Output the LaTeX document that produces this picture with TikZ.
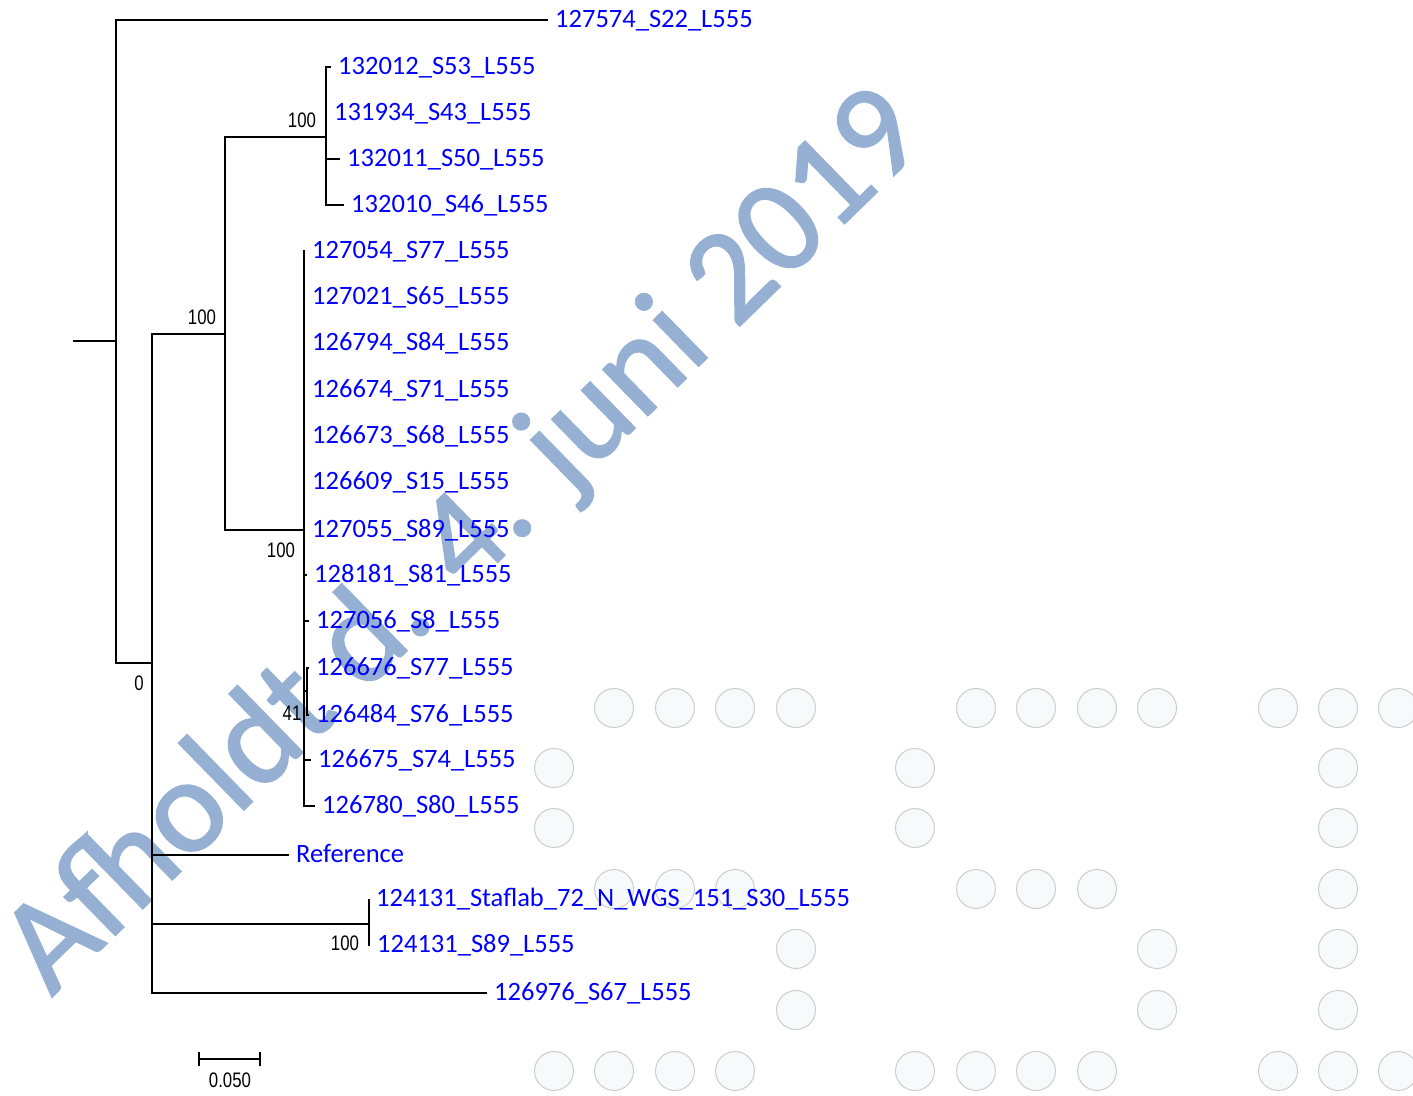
\documentclass[tikz,border=0pt]{standalone}
\usepackage{fontspec}
\setmainfont{Carlito}
\newfontfamily\lblfont{Carlito}
\newfontfamily\wmfont[FakeBold=1.5]{Carlito}
\newfontfamily\bsfont[FakeStretch=0.8]{Liberation Sans}
\definecolor{tipblue}{RGB}{0,0,255}
\definecolor{wmcol}{RGB}{149,176,210}
\definecolor{dotfill}{RGB}{247,250,251}
\definecolor{dotline}{RGB}{205,205,205}
\begin{document}
\begin{tikzpicture}[x=1pt,y=-1pt,
  br/.style={line width=1.8pt, line join=miter},
  tip/.style={anchor=west, inner xsep=7pt, inner ysep=0pt, text height=1.4em, text depth=0pt,
    font=\lblfont\fontsize{26.5}{30}\selectfont, text=tipblue},
  bs/.style={font=\bsfont\fontsize{21}{24}\selectfont, inner sep=0pt},
  dotc/.style={fill=dotfill, draw=dotline, line width=1pt}]
\useasboundingbox (0,0) rectangle (1413,1095);
% background dot pattern
\foreach \x/\y in {614/708,675/708,735/708,796/708,976/708,1036/708,1097/708,1157/708,1278/708,1338/708,1398/708,
  554/768,915/768,1338/768,554/828,915/828,1338/828,
  614/889,675/889,735/889,976/889,1036/889,1097/889,1338/889,
  796/949,1157/949,1338/949,796/1010,1157/1010,1338/1010,
  554/1071,614/1071,675/1071,735/1071,915/1071,976/1071,1036/1071,1097/1071,1278/1071,1338/1071,1398/1071}
  \filldraw[dotc] (\x,\y) circle (19.5);
% watermark
\node[font=\wmfont\fontsize{134}{150}\selectfont, text=wmcol, rotate=44.3, inner sep=0pt] (wm) at (466,543) {Afholdt d. 4. juni 2019};
% internal nodes
\coordinate (root) at (73,341);
\coordinate (n0) at (116,341);
\coordinate (n1) at (152,663);
\coordinate (n2) at (225,334);
\coordinate (n3) at (326,137);
\coordinate (n4) at (304,530);
\coordinate (n5) at (307,691);
\coordinate (n6) at (369,924);
% tips
\node[tip] (t1) at (548,20) {127574\_S22\_L555};
\node[tip] (t2) at (331,67) {132012\_S53\_L555};
\node[tip] (t3) at (327,113) {131934\_S43\_L555};
\node[tip] (t4) at (340,159) {132011\_S50\_L555};
\node[tip] (t5) at (344,205) {132010\_S46\_L555};
\node[tip] (t6) at (305,251) {127054\_S77\_L555};
\node[tip] (t7) at (305,297) {127021\_S65\_L555};
\node[tip] (t8) at (305,343) {126794\_S84\_L555};
\node[tip] (t9) at (305,390) {126674\_S71\_L555};
\node[tip] (t10) at (305,436) {126673\_S68\_L555};
\node[tip] (t11) at (305,482) {126609\_S15\_L555};
\node[tip] (t12) at (305,530) {127055\_S89\_L555};
\node[tip] (t13) at (307,575) {128181\_S81\_L555};
\node[tip] (t14) at (309,621) {127056\_S8\_L555};
\node[tip] (t15) at (309,668) {126676\_S77\_L555};
\node[tip] (t16) at (309,715) {126484\_S76\_L555};
\node[tip] (t17) at (311,760) {126675\_S74\_L555};
\node[tip] (t18) at (315,806) {126780\_S80\_L555};
\node[tip] (t19) at (289,855) {Reference};
\node[tip] (t20) at (369,899) {124131\_Staflab\_72\_N\_WGS\_151\_S30\_L555};
\node[tip] (t21) at (370,945) {124131\_S89\_L555};
\node[tip] (t22) at (487,993) {126976\_S67\_L555};
% branches
\draw[br] (root) -- (n0);
\draw[br] (n0) |- (t1.west);
\draw[br] (n0) |- (n1);
\draw[br] (n1) |- (n2);
\draw[br] (n1) |- (t19.west);
\draw[br] (n1) |- (n6);
\draw[br] (n1) |- (t22.west);
\draw[br] (n2) |- (n3);
\draw[br] (n2) |- (n4);
\foreach \t in {t2,t3,t4,t5} \draw[br] (n3) |- (\t.west);
\foreach \t in {t6,t7,t8,t9,t10,t11,t12,t13,t14,t17,t18} \draw[br] (n4) |- (\t.west);
\draw[br] (n4) |- (n5);
\foreach \t in {t15,t16} \draw[br] (n5) |- (\t.west);
\foreach \t in {t20,t21} \draw[br] (n6) |- (\t.west);
% support values
\node[bs] (b1) at (302,120) {100};
\node[bs] (b2) at (202,317) {100};
\node[bs] (b3) at (281,550) {100};
\node[bs] (b4) at (139,683) {0};
\node[bs] (b5) at (292,713) {41};
\node[bs] (b6) at (345,943) {100};
% scale bar
\coordinate (s1) at (199,1059);
\coordinate (s2) at (260,1059);
\draw[br] (s1) -- (s2);
\draw[br] ([yshift=7pt]s1) -- ([yshift=-7pt]s1);
\draw[br] ([yshift=7pt]s2) -- ([yshift=-7pt]s2);
\node[bs] (sl) at (230,1080) {0.050};
\end{tikzpicture}
\end{document}
